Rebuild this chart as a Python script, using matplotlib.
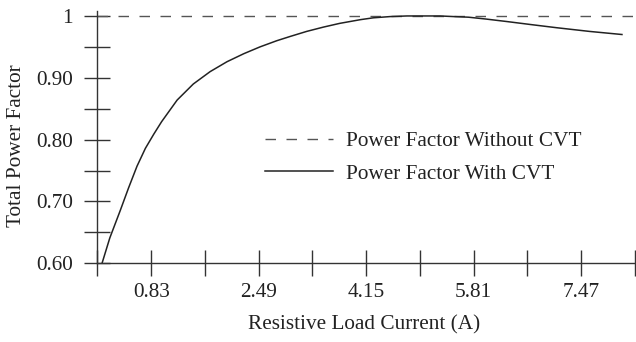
import matplotlib
matplotlib.use("Agg")
import matplotlib.pyplot as plt
from matplotlib.ticker import FixedLocator, NullFormatter

plt.rcParams['font.family'] = ['Liberation Serif', 'DejaVu Serif']
plt.rcParams['lines.scale_dashes'] = False

# data
current = [0.07, 0.19, 0.35, 0.48, 0.61, 0.74, 0.87, 0.99, 1.23, 1.48, 1.74, 2.00,
           2.26, 2.51, 2.77, 2.98, 3.23, 3.49, 3.74, 4.06, 4.26, 4.52, 4.78, 5.03,
           5.29, 5.50, 5.73, 6.00, 6.32, 6.70, 7.09, 7.60, 8.10]
pf_with = [0.600, 0.641, 0.685, 0.722, 0.757, 0.786, 0.809, 0.829, 0.864, 0.890, 0.910, 0.926,
           0.939, 0.950, 0.960, 0.967, 0.975, 0.982, 0.988, 0.994, 0.997, 0.999, 1.000, 1.000,
           1.000, 0.999, 0.998, 0.995, 0.991, 0.986, 0.981, 0.975, 0.970]
pf_without_x = [0.0, 8.32]
pf_without = [1.0, 1.0]

xticks_major = [0.83, 2.49, 4.15, 5.81, 7.47]
xticks_minor = [0.0, 1.66, 3.32, 4.98, 6.64, 8.30]
yticks_major = [0.60, 0.70, 0.80, 0.90, 1.0]
ytick_labels = ['0.60', '0.70', '0.80', '0.90', '1']
yticks_minor = [0.65, 0.75, 0.85, 0.95]

fig = plt.figure(figsize=(6.36, 3.42), dpi=100)
ax = fig.add_axes([0.1533, 0.2301, 0.847, 0.7377])

ax.plot(pf_without_x, pf_without, color='#555555', lw=1.0, dashes=(10.5*0.72, 10.5*0.72),
        label='Power Factor Without CVT')
ax.plot(current, pf_with, color='#222222', lw=1.1, label='Power Factor With CVT')

ax.set_xlim(0, 8.32)
ax.set_ylim(0.6, 1.008)

for s in ['top', 'right']:
    ax.spines[s].set_visible(False)
for s in ['left', 'bottom']:
    ax.spines[s].set_color('#333333')
    ax.spines[s].set_linewidth(1.0)

ax.xaxis.set_major_locator(FixedLocator(xticks_major))
ax.xaxis.set_minor_locator(FixedLocator(xticks_minor))
ax.yaxis.set_major_locator(FixedLocator(yticks_major))
ax.yaxis.set_minor_locator(FixedLocator(yticks_minor))
ax.set_xticklabels([f'{v:.2f}' for v in xticks_major])
ax.set_yticklabels(ytick_labels)
ax.xaxis.set_minor_formatter(NullFormatter())
ax.yaxis.set_minor_formatter(NullFormatter())

tl = 19
ax.tick_params(which='both', direction='inout', length=tl, width=1.0, color='#333333',
               labelsize=15.3, labelcolor='#222222')
ax.tick_params(axis='x', which='both', pad=5)
ax.tick_params(axis='y', which='both', pad=8)

ax.set_xlabel('Resistive Load Current (A)', fontsize=15.3, color='#222222')
ax.xaxis.set_label_coords(0.495, -0.205)
ax.set_ylabel('Total Power Factor', fontsize=15.3, color='#222222')
ax.yaxis.set_label_coords(-0.133, 0.465)

ax.legend(loc='center left', bbox_to_anchor=(265/636, 1 - 157.5/342), bbox_transform=fig.transFigure,
          frameon=False, fontsize=15.3, handlelength=3.2, handletextpad=0.6, labelspacing=0.6,
          borderpad=0, borderaxespad=0, labelcolor='#222222')

fig.savefig('out.png', dpi=100)
